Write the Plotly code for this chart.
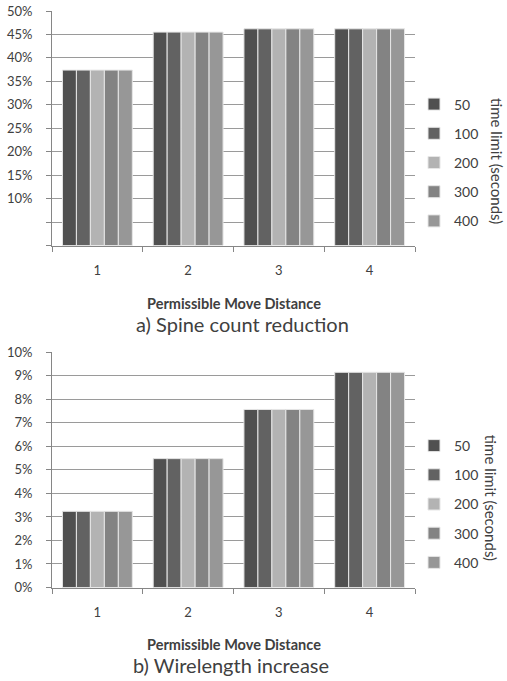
import plotly.graph_objects as go

categories = ["1", "2", "3", "4"]
series_names = ["50", "100", "200", "300", "400"]
series_colors = ["#505050", "#626262", "#b3b3b3", "#838383", "#979797"]

spine_50 = [0.374, 0.455, 0.462, 0.462]
spine_100 = [0.374, 0.455, 0.462, 0.462]
spine_200 = [0.374, 0.455, 0.462, 0.462]
spine_300 = [0.374, 0.455, 0.462, 0.462]
spine_400 = [0.374, 0.455, 0.462, 0.462]

wl_50 = [0.0324, 0.0548, 0.0757, 0.0915]
wl_100 = [0.0324, 0.0548, 0.0757, 0.0915]
wl_200 = [0.0324, 0.0548, 0.0757, 0.0915]
wl_300 = [0.0324, 0.0548, 0.0757, 0.0915]
wl_400 = [0.0324, 0.0548, 0.0757, 0.0915]

top_ticks = [0, 0.05, 0.10, 0.15, 0.20, 0.25, 0.30, 0.35, 0.40, 0.45, 0.50]
top_ticktext = ["", "", "10%", "15%", "20%", "25%", "30%", "35%", "40%", "45%", "50%"]
bot_ticks = [0, 0.01, 0.02, 0.03, 0.04, 0.05, 0.06, 0.07, 0.08, 0.09, 0.10]
bot_ticktext = ["0%", "1%", "2%", "3%", "4%", "5%", "6%", "7%", "8%", "9%", "10%"]

spine_series = [spine_50, spine_100, spine_200, spine_300, spine_400]
wl_series = [wl_50, wl_100, wl_200, wl_300, wl_400]

W, H = 507, 681
FONT = "Lato"
TXT = "#404040"

def px(x):
    return x / W

def py(y):
    return 1 - y / H

fig = go.Figure()
for name, col, vals in zip(series_names, series_colors, spine_series):
    fig.add_trace(go.Bar(x=categories, y=vals, name=name, marker_color=col,
                         marker_line_color="#e6e6e6", marker_line_width=1,
                         xaxis="x", yaxis="y", legend="legend",
                         legendgroup="t" + name))
for name, col, vals in zip(series_names, series_colors, wl_series):
    fig.add_trace(go.Bar(x=categories, y=vals, name=name, marker_color=col,
                         marker_line_color="#e6e6e6", marker_line_width=1,
                         xaxis="x2", yaxis="y2", legend="legend2",
                         legendgroup="b" + name))

xcommon = dict(type="category", tickson="boundaries", ticks="outside", ticklen=5,
               tickcolor="#868686", showline=True, linecolor="#868686", linewidth=1,
               showgrid=False, tickfont=dict(family=FONT, size=13, color=TXT),
               ticklabelstandoff=13, automargin=False)
ycommon = dict(ticks="outside", ticklen=5, tickcolor="#868686", showline=True,
               linecolor="#868686", linewidth=1, showgrid=True, gridcolor="#9a9a9a",
               gridwidth=1, zeroline=False, tickfont=dict(family=FONT, size=13, color=TXT),
               ticklabelstandoff=11, automargin=False)

legfont = dict(family=FONT, size=14, color=TXT)
fig.update_layout(
    width=W, height=H, margin=dict(l=0, r=0, t=0, b=0, autoexpand=False),
    paper_bgcolor="white", plot_bgcolor="white",
    barmode="group", bargap=0.23, bargroupgap=0,
    xaxis=dict(domain=[px(52), px(415)], anchor="y", **xcommon),
    yaxis=dict(domain=[py(245.5), py(11)], anchor="x", range=[0, 0.5],
               tickvals=top_ticks, ticktext=top_ticktext, **ycommon),
    xaxis2=dict(domain=[px(52), px(415)], anchor="y2", **xcommon),
    yaxis2=dict(domain=[py(587.5), py(352.3)], anchor="x2", range=[0, 0.10],
                tickvals=bot_ticks, ticktext=bot_ticktext, **ycommon),
    legend=dict(x=px(414), y=py(162.5), xanchor="left", yanchor="middle",
                font=legfont, tracegroupgap=8,
                traceorder="grouped", bgcolor="rgba(0,0,0,0)"),
    legend2=dict(x=px(414), y=py(504), xanchor="left", yanchor="middle",
                 font=legfont, tracegroupgap=8,
                 traceorder="grouped", bgcolor="rgba(0,0,0,0)"),
    showlegend=True,
)

ann = [
    dict(text="<b>Permissible Move Distance</b>", x=px(233.5), y=py(303.5), size=14.5),
    dict(text="a) Spine count reduction", x=px(242.5), y=py(324), size=20),
    dict(text="<b>Permissible Move Distance</b>", x=px(233.5), y=py(644), size=14.5),
    dict(text="b) Wirelength increase", x=px(230.7), y=py(664.5), size=20),
]
for a in ann:
    fig.add_annotation(text=a["text"], x=a["x"], y=a["y"], xref="paper", yref="paper",
                       xanchor="center", yanchor="middle", showarrow=False,
                       font=dict(family=FONT, size=a["size"], color=TXT))

for xc, yc in [(497, 161), (491.7, 497.5)]:
    fig.add_annotation(text="time limit (seconds)", x=px(xc), y=py(yc), xref="paper",
                       yref="paper", xanchor="center", yanchor="middle", showarrow=False,
                       textangle=90, font=dict(family=FONT, size=15, color=TXT))

fig.write_html("out.html", config={"displayModeBar": False},
               post_script="document.body.style.margin='0';")
